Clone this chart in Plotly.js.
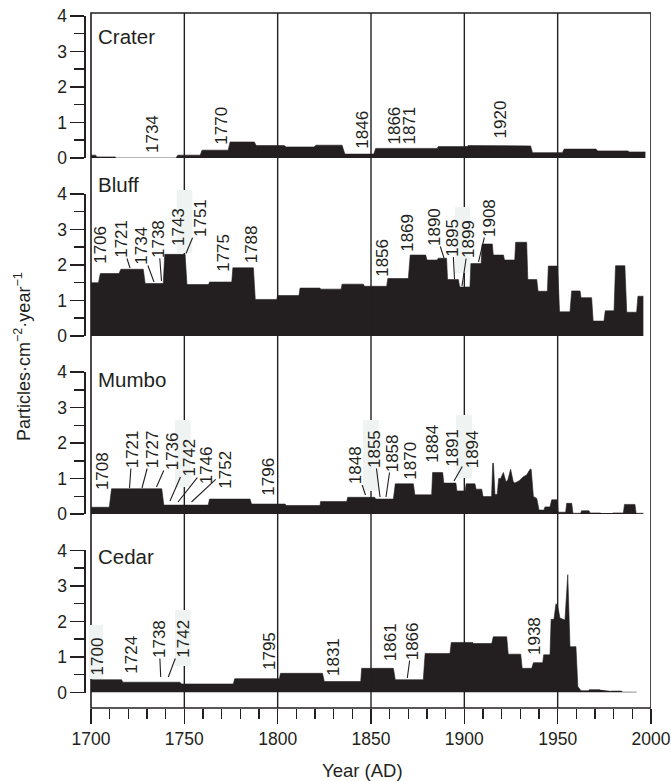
<!DOCTYPE html>
<html><head><meta charset="utf-8">
<script src="https://cdn.plot.ly/plotly-3.0.1.min.js"></script>
<style>html,body{margin:0;padding:0;background:#fff}#chart{width:671px;height:781px}</style>
</head><body><div id="chart"></div>
<script>
// ---------------- DATA ----------------
const xTickVals = [1700, 1750, 1800, 1850, 1900, 1950, 2000];
const yTickVals = [0, 1, 2, 3, 4];
const panelNames = ['Crater', 'Bluff', 'Mumbo', 'Cedar'];

const craterYear = [1700,1702.5,1703.2,1713,1713.5,1745.5,1746.5,1758.5,1759.5,1773.5,1774.5,1787.5,1788.5,1803.5,1804.5,1819.5,1820.5,1834.5,1836,1851.5,1852.5,1885.5,1886,1901.5,1902,1918.5,1919,1935.5,1936.5,1952.5,1953.5,1970.5,1971.5,1987.5,1988.5,1997];
const craterVal  = [0.08,0.08,0.03,0.03,0,0,0.08,0.08,0.22,0.22,0.45,0.45,0.35,0.35,0.31,0.31,0.36,0.36,0.11,0.11,0.27,0.27,0.32,0.32,0.35,0.35,0.34,0.34,0.15,0.15,0.25,0.25,0.2,0.2,0.17,0.17];

const bluffYear = [1700,1704,1705,1715,1716,1728,1729,1738.7,1739.5,1750.4,1751.4,1763,1763.5,1775.4,1776,1787,1788,1799.5,1800,1811.4,1812,1822.7,1823,1834,1834.5,1845.9,1846.5,1858.4,1859,1870,1871,1879.3,1880,1885.5,1886,1890.5,1891,1896.8,1897.5,1903,1903.5,1909,1909.5,1915,1915.5,1921,1921.5,1927,1927.5,1933.4,1934,1938.8,1939.5,1944.5,1945,1950,1951,1956.6,1957.5,1962,1962.5,1968.2,1969,1974.8,1975.5,1980.2,1981,1986,1987,1992.3,1993,1995.9];
const bluffVal  = [1.5,1.5,1.76,1.76,1.88,1.88,1.48,1.48,2.3,2.3,1.45,1.45,1.52,1.52,1.92,1.92,1.03,1.03,1.14,1.14,1.35,1.35,1.32,1.32,1.46,1.46,1.4,1.4,1.62,1.62,2.28,2.28,2.14,2.14,2.19,2.19,1.59,1.59,1.38,1.38,2.04,2.04,2.59,2.59,2.28,2.28,2.14,2.14,2.64,2.64,1.59,1.59,1.26,1.26,1.97,1.97,0.68,0.68,1.27,1.27,1.08,1.08,0.42,0.42,0.71,0.71,1.98,1.98,0.67,0.67,1.12,1.12];

const mumboYear = [1700,1709.8,1711,1737.9,1739,1762.8,1763.5,1785.2,1786,1804,1804.5,1822.7,1823,1837,1837.5,1852,1852.5,1862,1863,1872.7,1873.5,1882.5,1883,1888.4,1889,1895.5,1896,1900.4,1901,1905.7,1906.3,1909.3,1910,1914.6,1915.2,1915.6,1916.4,1917.6,1918.4,1919.5,1920.9,1922.3,1923.3,1924.8,1926.2,1927.1,1929.4,1931.6,1933.4,1935.2,1935.8,1937,1938.8,1940,1942.7,1943.2,1945.9,1946.8,1949.8,1950.3,1954.3,1954.8,1957.5,1958.2,1962.3,1962.8,1966.8,1967.3,1973,null,1979.5,1985.2,1985.8,1991.4,1992,1995.9];
const mumboVal  = [0.19,0.19,0.71,0.71,0.25,0.25,0.42,0.42,0.28,0.28,0.24,0.24,0.35,0.35,0.47,0.47,0.42,0.42,0.85,0.85,0.54,0.54,1.17,1.17,0.87,0.87,0.65,0.65,0.85,0.85,0.7,0.7,0.49,0.49,1.43,1.43,0.55,0.55,1.0,1.0,1.17,0.91,0.96,1.26,0.91,0.87,0.94,1.05,1.1,1.26,1.26,0.49,0.44,0.11,0.11,0.2,0.2,0.4,0.4,0.05,0.05,0.3,0.3,0.02,0.02,0.09,0.09,0.03,0.03,null,0.03,0.03,0.27,0.27,0.02,0.02];

const cedarYear = [1700,1716.4,1717,1747.7,1748.5,1776.2,1777,1800.9,1801.5,1824,1825,1844.5,1845,1862,1863,1878,1879,1892.3,1893,1904.5,1905,1914.7,1915.5,1922.7,1923.5,1930.2,1931,1936.1,1937,1942,1942.5,1945.9,1946.5,1948,1949.1,1949.8,1950.5,1951.2,1953.9,1955.4,1956.6,1959.8,1960.8,1962.5,1966.4,1967,1972.7,null,1978.6,1984.3,1984.8,1992.3];
const cedarVal  = [0.36,0.36,0.29,0.29,0.24,0.24,0.39,0.39,0.54,0.54,0.31,0.31,0.68,0.68,0.36,0.36,1.1,1.1,1.41,1.41,1.38,1.38,1.57,1.57,1.08,1.08,0.68,0.68,0.84,0.84,1.06,1.06,2.06,2.06,2.5,2.45,2.3,2.1,2.04,3.32,1.29,1.29,0.17,0.05,0.05,0.08,0.08,null,0.04,0.04,0.01,0.01];

const craterLabels = ['1734','1770','1846','1866','1871','1920'];
const bluffLabels  = ['1706','1721','1734','1738','1743','1751','1775','1788','1856','1869','1890','1895','1899','1908'];
const mumboLabels  = ['1708','1721','1727','1736','1742','1746','1752','1796','1848','1855','1858','1870','1884','1891','1894'];
const cedarLabels  = ['1700','1724','1738','1742','1795','1831','1861','1866','1938'];

// ---------------- LAYOUT HELPERS (pixel placement) ----------------
const INK = '#231f20';
const FONT = 'Liberation Sans, Arial, sans-serif';
const yr = px => 1700 + (px - 91) * 300 / 560;   // pixel x -> year
const pp = py => (708 - py) / 695;              // pixel y -> paper fraction

// label text centre [cx, cy] and optional leader tip [tx, ty] (pixels)
const craterPos = [[152,134],[220.7,126],[361.7,130],[394,125.5],[409,125.5],[500.7,119.7]];
const bluffPos = [[100.8,245],[120.8,239,130,268],[140.7,246,154,282],[158.3,238.7,161.5,281],[179,227],[200.7,218.3,186,253.5],[223.3,252.5],[252.3,244],[382.3,257.5],[407.3,232.5],[434,227,444,258],[452.3,237.5,454.5,279],[469,239,462,286],[489,218,478.5,262]];
const mumboPos = [[102.3,470.8],[132.3,449,129.5,488],[152.3,449,142,488],[172.3,451,156.5,487],[189,457.5,170,501],[207.3,465,178,502],[225.7,470,191.5,502],[269,476.7],[355.7,465.5,365.5,495],[374,449,380,497],[392.3,453,386,497],[410.7,461],[431.7,444],[452.3,447.5],[472.3,449,454,481]];
const cedarPos = [[97.7,656.7],[130.7,655],[159,639,160.7,677],[182.7,639,168.3,677],[269,651],[333.3,656.7],[390.7,642.5],[412.3,641,407.3,678],[534,636]];
const namePos = [[96,37],[96,185],[96,379.5],[96,556]];
// light label boxes masking the grid lines [x0,x1,y0,y1] pixels
const masks = [[176.7,192.3,190,253],[455,470,207,273],[175,190.7,420,487],[363,379,420,491],[456,472,415,478],[89,103,625,679],[175,190.7,610,666]];

// ---------------- TRACES ----------------
const series = [[craterYear,craterVal,'y'],[bluffYear,bluffVal,'y2'],[mumboYear,mumboVal,'y3'],[cedarYear,cedarVal,'y4']];
const traces = series.map(([x,y,ax],i) => ({
  type:'scatter', mode:'lines', x:x, y:y, yaxis:ax, name:panelNames[i],
  fill:'tozeroy', fillcolor:INK, line:{color:INK, width:0.6}, connectgaps:false,
  hoverinfo:'skip', showlegend:false
}));

// ---------------- ANNOTATIONS ----------------
const annotations = [];
function addLabels(texts, pos){
  texts.forEach((t,i)=>{
    const p = pos[i];
    const a = {text:t, textangle:-90, font:{family:FONT,size:17,color:INK}, xref:'x', yref:'paper', borderpad:0,
      xanchor:'center', yanchor:'middle'};
    if(p.length > 2){
      Object.assign(a, {x:yr(p[2]), y:pp(p[3]), showarrow:true, arrowhead:0, arrowwidth:1.1, arrowcolor:INK,
        ax:p[0]-p[2], ay:p[1]-p[3], standoff:0, startstandoff:0});
    } else {
      Object.assign(a, {x:yr(p[0]), y:pp(p[1]), showarrow:false});
    }
    annotations.push(a);
  });
}
addLabels(craterLabels, craterPos);
addLabels(bluffLabels, bluffPos);
addLabels(mumboLabels, mumboPos);
addLabels(cedarLabels, cedarPos);
panelNames.forEach((n,i)=>annotations.push({text:n, x:yr(namePos[i][0]), y:pp(namePos[i][1]), xref:'x', yref:'paper',
  xanchor:'left', yanchor:'middle', showarrow:false, font:{family:FONT,size:20.5,color:INK}}));
annotations.push({text:'Particles·cm<sup>−2</sup>·year<sup>−1</sup>', textangle:-90, xref:'paper', yref:'paper',
  x:(22-86)/565, y:pp(357), xanchor:'center', yanchor:'middle', showarrow:false, font:{family:FONT,size:18,color:INK}});
annotations.push({text:'Year (AD)', xref:'x', yref:'paper', x:yr(362), y:pp(770), xanchor:'center', yanchor:'middle',
  showarrow:false, font:{family:FONT,size:18.5,color:INK}});

// ---------------- SHAPES ----------------
const shapes = [];
[1750,1800,1850,1900,1950].forEach(v=>shapes.push({type:'line', xref:'x', yref:'paper', x0:v, x1:v, y0:0, y1:1, line:{color:INK,width:1.4}}));
shapes.push({type:'rect', xref:'x', yref:'paper', x0:1700, x1:2000, y0:0, y1:1, line:{color:INK,width:1.6}});
masks.forEach(m=>shapes.push({type:'rect', xref:'x', yref:'paper', x0:yr(m[0]), x1:yr(m[1]), y0:pp(m[3]), y1:pp(m[2]), line:{width:0}, fillcolor:'#eff3f1'}));

// ---------------- AXES ----------------
function yAxis(dom){
  return {domain:dom, range:[0,4], anchor:'x', tickvals:yTickVals, ticks:'outside', ticklen:14, tickwidth:1.5, tickcolor:INK,
    showline:true, linecolor:INK, linewidth:1.6, showgrid:false, zeroline:false, fixedrange:true,
    tickfont:{family:FONT,size:17.5,color:INK},
    minor:{dtick:0.5, ticks:'outside', ticklen:10, tickwidth:1.5, tickcolor:INK, showgrid:false}};
}
const layout = {
  width:671, height:781, margin:{l:86, r:20, t:13, b:73}, paper_bgcolor:'#fff', plot_bgcolor:'rgba(0,0,0,0)',
  showlegend:false,
  xaxis:{domain:[0,1], range:[1697.32,2000], anchor:'free', position:0, tickvals:xTickVals, ticks:'outside', ticklen:15,
    tickwidth:1.5, tickcolor:INK, showline:false, showgrid:false, zeroline:false, fixedrange:true,
    tickfont:{family:FONT,size:17.5,color:INK},
    minor:{tick0:1700, dtick:10, ticks:'outside', ticklen:10, tickwidth:1.5, tickcolor:INK, showgrid:false}},
  yaxis: yAxis([0.7914,0.9957]),
  yaxis2: yAxis([0.53525,0.73957]),
  yaxis3: yAxis([0.27914,0.48345]),
  yaxis4: yAxis([0.0223,0.22662]),
  shapes:shapes, annotations:annotations
};
Plotly.newPlot('chart', traces, layout, {staticPlot:true, displayModeBar:false});
</script></body></html>
